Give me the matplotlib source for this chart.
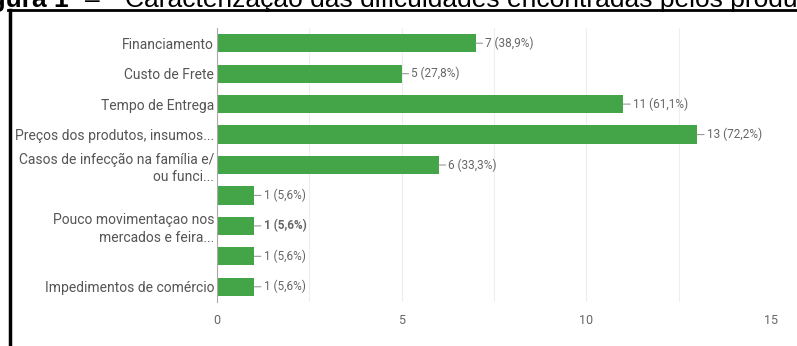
import matplotlib.pyplot as plt
from matplotlib.lines import Line2D

categorias = ["Financiamento", "Custo de Frete", "Tempo de Entrega",
              "Preços dos produtos, insumos...",
              "Casos de infecção na família e/\nou funci...",
              "", "Pouco movimentaçao nos\nmercados e feira...", "",
              "Impedimentos de comércio"]
valores = [7, 5, 11, 13, 6, 1, 1, 1, 1]
percentuais = [38.9, 27.8, 61.1, 72.2, 33.3, 5.6, 5.6, 5.6, 5.6]
xticks = [0, 5, 10, 15]

fonte = ["Roboto", "DejaVu Sans"]
verde = "#43a547"
cinza = "#666666"

fig = plt.figure(figsize=(7.97, 3.46), dpi=100)
ax = fig.add_axes([217 / 797, 1 - 302 / 346, (771 - 217) / 797, 274 / 346])

pos = range(len(valores))
ax.barh(pos, valores, height=0.6, color=verde, zorder=3)
ax.set_ylim(8.5, -0.5)
ax.set_xlim(0, 15)

# rotulos de valor com tracinho
for i, (v, p) in enumerate(zip(valores, percentuais)):
    txt = f"{v} ({p:.1f}%)".replace(".", ",")
    ax.annotate(txt, xy=(v, i), xytext=(7, 0), textcoords="offset points",
                va="center", ha="left", fontsize=8.5, color=cinza, family=fonte,
                fontweight="bold" if i == 6 else "normal",
                arrowprops=dict(arrowstyle="-", color="#999999", lw=0.8,
                                shrinkA=0, shrinkB=0))

ax.set_yticks(list(pos))
ax.set_yticklabels(categorias, fontsize=10, color="#555555", family=fonte,
                   linespacing=1.3)
ax.set_xticks(xticks)
ax.set_xticklabels([str(t) for t in xticks], fontsize=9, color=cinza, family=fonte)
ax.set_xticks([2.5, 7.5, 12.5], minor=True)
ax.tick_params(axis="both", which="both", length=0)
ax.tick_params(axis="x", pad=9)
ax.tick_params(axis="y", pad=2)
ax.grid(axis="x", which="both", color="#eeeeee", lw=0.8, zorder=0)
for s in ["top", "right", "bottom"]:
    ax.spines[s].set_visible(False)
ax.spines["left"].set_color("#aaaaaa")
ax.spines["left"].set_zorder(4)

# moldura preta
fig.add_artist(Line2D([8 / 797, 1], [1 - 10 / 346, 1 - 10 / 346], color="black", lw=2))
fig.add_artist(Line2D([10 / 797, 10 / 797], [0, 1 - 10 / 346], color="black", lw=2.5))

# legenda da figura (cortada no topo, como na imagem original)
ybase = 1 - 7.5 / 346
fig.text(69 / 797, ybase, "Figura 1", fontsize=19, fontweight="bold",
         family="Liberation Sans", ha="right", va="baseline")
fig.text(92 / 797, ybase, "–", fontsize=19, family="Liberation Sans",
         ha="center", va="baseline")
fig.text(125 / 797, ybase,
         "Caracterização das dificuldades encontradas pelos produtores",
         fontsize=19, family="Liberation Sans", ha="left", va="baseline")

fig.savefig("out.png", dpi=100)
